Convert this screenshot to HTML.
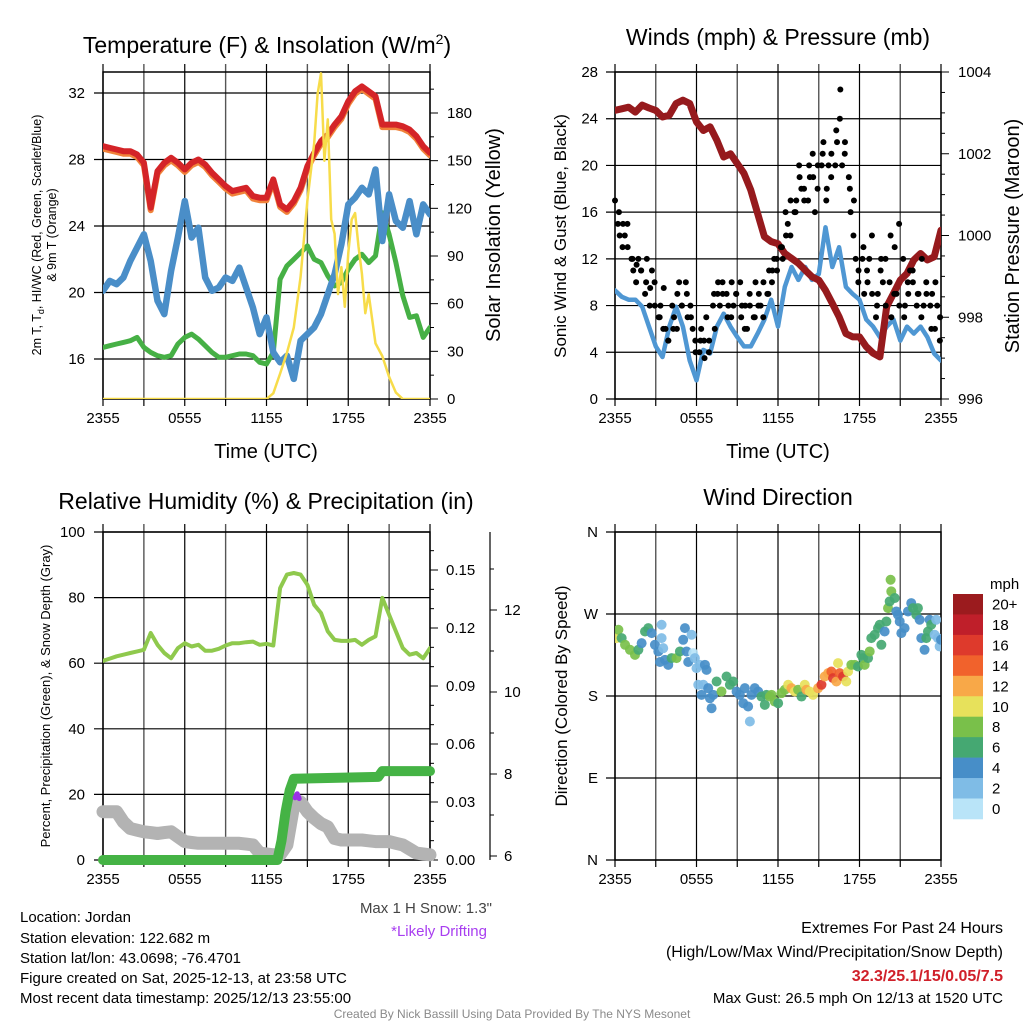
<!DOCTYPE html>
<html><head><meta charset="utf-8">
<style>
body{margin:0;background:#fff;}
svg{display:block;font-family:"Liberation Sans",Arial,sans-serif;}
</style></head>
<body>
<svg id="c" width="1024" height="1024" viewBox="0 0 1024 1024" xmlns="http://www.w3.org/2000/svg">
<defs>
<clipPath id="cp1"><rect x="103" y="72" width="327" height="327"/></clipPath>
<clipPath id="cp2"><rect x="615" y="72" width="326" height="327"/></clipPath>
<clipPath id="cp3"><rect x="103" y="532" width="327" height="328"/></clipPath>
<clipPath id="cp4"><rect x="615" y="532" width="326" height="328"/></clipPath>
</defs>
<text x="267" y="53" font-size="23" text-anchor="middle">Temperature (F) &amp; Insolation (W/m<tspan dy="-9" font-size="14">2</tspan><tspan dy="9">)</tspan></text>
<text x="778" y="45" font-size="23" text-anchor="middle">Winds (mph) &amp; Pressure (mb)</text>
<text x="266" y="509" font-size="23" text-anchor="middle">Relative Humidity (%) &amp; Precipitation (in)</text>
<text x="778" y="505" font-size="23" text-anchor="middle">Wind Direction</text>

<text x="266" y="458" font-size="20" text-anchor="middle">Time (UTC)</text>
<text x="778" y="458" font-size="20" text-anchor="middle">Time (UTC)</text>

<g font-size="12.5" text-anchor="middle">
<text transform="translate(41,235) rotate(-90)">2m T, T<tspan font-size="9" dy="3">d</tspan><tspan dy="-3">, HI/WC (Red, Green, Scarlet/Blue)</tspan></text>
<text transform="translate(56,235) rotate(-90)">&amp; 9m T (Orange)</text>
</g>
<text transform="translate(500,235) rotate(-90)" font-size="20" text-anchor="middle">Solar Insolation (Yellow)</text>
<text transform="translate(566,236) rotate(-90)" font-size="17" text-anchor="middle">Sonic Wind &amp; Gust (Blue, Black)</text>
<text transform="translate(1019,236) rotate(-90)" font-size="20" text-anchor="middle">Station Pressure (Maroon)</text>
<text transform="translate(50,696) rotate(-90)" font-size="13" text-anchor="middle">Percent, Precipitation (Green), &amp; Snow Depth (Gray)</text>
<text transform="translate(567,696) rotate(-90)" font-size="17" text-anchor="middle">Direction (Colored By Speed)</text>

<g font-size="15">
<text x="20" y="922">Location: Jordan</text>
<text x="20" y="943">Station elevation: 122.682 m</text>
<text x="20" y="963">Station lat/lon: 43.0698; -76.4701</text>
<text x="20" y="983">Figure created on Sat, 2025-12-13, at 23:58 UTC</text>
<text x="20" y="1003">Most recent data timestamp: 2025/12/13 23:55:00</text>
</g>
<text x="492" y="913" font-size="15" fill="#444" text-anchor="end">Max 1 H Snow: 1.3"</text>
<text x="487" y="936" font-size="15" fill="#a83ef0" text-anchor="end">*Likely Drifting</text>
<g font-size="16" text-anchor="end">
<text x="1003" y="933">Extremes For Past 24 Hours</text>
<text x="1003" y="957">(High/Low/Max Wind/Precipitation/Snow Depth)</text>
<text x="1003" y="981" fill="#d0202a" font-weight="bold">32.3/25.1/15/0.05/7.5</text>
<text x="1003" y="1003" font-size="15">Max Gust: 26.5 mph On 12/13 at 1520 UTC</text>
</g>
<text x="512" y="1018" font-size="12" fill="#8a8a8a" text-anchor="middle">Created By Nick Bassill Using Data Provided By The NYS Mesonet</text>
</svg>
<script>
// ---------- data ----------
const hours = [0,0.5,1,1.5,2,2.5,3,3.5,4,4.5,5,5.5,6,6.5,7,7.5,8,8.5,9,9.5,10,10.5,11,11.5,12,12.5,13,13.5,14,14.5,15,15.5,16,16.5,17,17.5,18,18.5,19,19.5,20,20.5,21,21.5,22,22.5,23,23.5,24];
const tempF = [28.8,28.7,28.6,28.5,28.5,28.3,27.8,25.1,27.3,27.8,28.1,27.8,27.4,27.8,28.0,27.7,27.2,26.8,26.4,26.1,26.2,26.3,25.8,25.7,25.7,26.8,25.3,25.0,25.5,26.3,27.6,28.4,29.1,29.5,30.1,30.6,31.5,32.1,32.4,32.1,31.8,30.1,30.1,30.1,30.0,29.8,29.4,28.8,28.4];
const windChill = [20.1,20.7,20.5,20.9,21.9,22.7,23.5,21.9,19.5,18.7,21.3,23.3,25.5,23.3,23.9,20.9,20.1,20.3,20.9,20.7,21.5,20.3,19.1,17.5,18.5,16.4,15.8,16.2,14.8,17.1,17.5,17.9,18.7,19.9,21.1,22.9,25.3,25.7,26.3,25.9,27.4,23.1,25.9,24.3,23.9,25.5,23.5,25.3,24.7];
const dewF = [16.7,16.8,16.9,17.0,17.1,17.3,16.7,16.4,16.2,16.1,16.2,16.9,17.3,17.5,17.2,16.8,16.4,16.1,16.1,16.2,16.3,16.3,16.2,15.8,15.7,16.4,20.8,21.6,22.0,22.4,22.8,22.0,21.8,21.0,20.4,20.6,21.4,22.0,22.3,21.8,22.2,24.8,23.5,21.8,19.8,18.5,18.6,17.3,17.9];
const solarHours = [0,12,12.5,13,13.5,14,14.5,15,15.5,15.75,16,16.25,16.5,16.75,17,17.25,17.5,17.75,18,18.25,18.5,18.75,19,19.25,19.5,20,20.5,21,21.5,22,24];
const solarW = [0,0,3.6,16,29,45,77,125,161,192,205,150,176,113,104,66,83,58,92,113,117,96,79,54,66,35,27,14,4,0,0];
const pressureMb = [1003.06,1003.1,1003.14,1003.02,1003.19,1003.12,1003.06,1002.9,1002.94,1003.23,1003.31,1003.23,1002.78,1002.57,1002.66,1002.33,1001.92,1002.0,1001.76,1001.52,1001.11,1000.54,999.97,999.85,999.8,999.56,999.44,999.32,999.15,998.99,998.91,998.66,998.34,998.01,997.6,997.52,997.52,997.28,997.12,997.03,998.26,998.58,998.91,999.07,999.4,999.56,999.4,999.48,1000.13];
const windMph = [9.3,8.75,8.5,8.5,7.9,6.2,4.5,3.6,6.2,7.9,6.2,3.3,1.6,4.2,3.9,6.2,7.3,6.2,5.3,4.5,4.5,5.6,6.8,8.5,6.2,9.6,11.3,10.2,11.3,10.2,10.7,14.7,11.3,13.0,9.6,9.0,8.5,6.8,6.2,5.3,6.2,6.8,5.0,6.2,5.6,6.2,5.3,3.9,3.3];
const gustA = [17,16,15,14,13,12,11.5,12,11,10,9.5,11,8,7,9.5,6,5,6,9,10,8,9,7,6,4,5,3.5,7,5,9,10,8,9,7,10,8,9,7,8,6,8,7,9,8,10,9,11,12,11,13,14,15,17,16,19,18,17,20,19,16,20,21,18,20,21,23,26.5,20,22,18,17,12,11,13,10,12,9,8,12,10,8,14,13,9,8,7,9,11,10,9,12,8,9,6,10,8,7];
const gustB = [15,14,13,15,12,11,10,11,9,12,8,10,7,8,6,5,8,7,6,8,10,7,8,5,4,6,5,4,8,6,9,10,9,8,7,9,10,8,6,9,7,10,8,7,9,11,10,12,13,12,16,14,16,17,20,18,17,19,21,18,20,22,17,19,20,22,24,21,19,16,14,10,12,9,11,14,7,9,11,12,10,7,9,15,12,8,10,11,8,9,7,10,8,9,6,5,8];
const rhPct = [60.7,61.4,62.1,62.6,63.1,63.6,64.1,69.2,65.6,63.1,61.5,64.6,66.1,65.1,65.6,63.8,63.8,64.4,65.4,66.1,66.1,66.4,66.6,65.6,65.9,65.4,82.9,87.0,87.5,87.0,83.9,77.8,75.3,69.7,67.1,66.8,66.8,67.1,65.6,67.1,68.2,79.9,74.8,69.7,64.6,62.6,63.1,61.5,64.6];
const precipHours = [0,12.8,13.1,13.4,13.7,14,20.2,20.5,24];
const precipIn = [0,0,0.01,0.025,0.036,0.042,0.043,0.046,0.046];
const snowIn = [7.08,7.08,7.08,6.83,6.67,6.63,6.59,6.57,6.55,6.57,6.59,6.47,6.35,6.33,6.31,6.31,6.31,6.31,6.31,6.31,6.31,6.29,6.27,6.07,6.05,6.03,6.03,6.27,7.24,7.32,7.08,6.92,6.79,6.71,6.43,6.39,6.39,6.39,6.39,6.37,6.35,6.35,6.35,6.31,6.27,6.17,6.07,6.05,6.03];
const driftHours = [14.1,14.25,14.4];
const driftIn = [7.42,7.52,7.4];
const dirHours = [0.12,0.25,0.49,0.74,1.10,1.47,1.72,1.96,2.21,2.45,2.70,2.94,3.19,3.43,3.43,3.55,3.31,3.68,3.92,4.17,4.53,4.78,5.02,5.15,5.27,5.39,5.64,5.76,5.88,6.00,6.25,6.62,6.74,6.13,6.37,6.50,6.86,6.99,7.11,7.23,7.48,7.84,8.21,8.46,8.70,8.95,9.19,9.44,9.56,9.80,9.93,10.05,10.29,10.54,10.78,11.03,11.15,11.40,11.52,11.76,12.01,12.25,12.50,12.75,12.99,13.24,13.48,13.73,13.97,14.09,14.34,14.58,14.95,15.20,15.44,15.69,15.93,16.05,16.30,16.42,16.54,16.79,17.03,17.16,17.40,17.65,17.89,18.14,18.26,18.38,18.63,18.75,18.87,19.12,19.36,19.49,19.61,19.85,19.98,20.10,20.22,20.29,20.34,20.59,20.71,20.83,20.96,21.08,21.32,21.57,21.81,21.94,22.18,22.30,22.43,22.55,22.79,22.92,23.04,23.16,23.28,23.53,23.77,23.90,24.0,23.65];
const dirDeg = [243.5,252.7,243.5,236.2,230.7,225.2,230.7,238.0,250.8,254.5,249.0,236.2,228.9,258.2,243.5,232.5,217.3,219.7,214.2,221.6,221.6,228.9,241.7,254.5,228.9,217.3,247.2,227.0,221.6,210.6,214.2,214.2,208.7,192.3,181.3,192.3,188.6,177.6,166.6,181.3,195.9,184.9,201.4,192.3,195.9,184.9,181.3,172.1,188.6,168.5,152.0,181.3,188.6,184.9,179.4,170.3,181.3,179.4,181.3,173.9,172.1,183.1,186.8,192.3,188.6,184.9,186.8,179.4,192.3,186.8,184.9,181.3,188.6,192.3,201.4,205.1,206.9,199.6,195.9,216.1,205.1,201.4,195.9,206.9,214.2,214.2,212.4,225.2,221.6,214.2,221.6,228.9,243.5,247.2,254.5,258.2,236.2,250.8,261.8,276.5,283.8,307.6,294.8,287.5,272.8,269.2,261.8,249.0,254.5,272.8,282.0,276.5,269.2,276.5,263.7,243.5,230.7,243.5,250.8,263.7,258.2,247.2,243.5,234.4,241.7,263.7];
const dirSpeed = [10,8,7,8,8,8,7,4,6,6,4,4,4,2,2,2,4,4,4,7,8,6,4,4,4,4,2,1,2,2,2,4,4,2,4,2,4,4,4,4,6,8,6,6,6,4,4,4,4,4,2,4,4,4,6,6,6,8,8,8,6,8,8,10,12,10,8,6,10,12,10,10,13,16,12,13,14,16,13,10,14,16,11,10,8,8,7,6,6,8,6,8,6,6,6,6,6,4,6,8,6,8,8,6,4,4,4,4,4,4,4,6,6,6,4,4,4,6,6,4,6,2,2,2,4,2];
const xTickLabels = ["2355","0555","1155","1755","2355"];
const tempTicks = [16,20,24,28,32];
const solarTicks = [0,30,60,90,120,150,180];
const windTicks = [0,4,8,12,16,20,24,28];
const presTicks = [996,998,1000,1002,1004];
const rhTicks = [0,20,40,60,80,100];
const precipTicks = [0,0.03,0.06,0.09,0.12,0.15];
const snowTicks = [6,8,10,12];
const dirTicks = ["N","E","S","W","N"];
const speedLabels = ["20+","18","16","14","12","10","8","6","4","2","0"];
const speedColors = ["#9b1b1e","#bf1f2a","#de3a2c","#f1622c","#f8a848","#e7e15b","#79c04a","#45a872","#478ec8","#7fbce6","#b9e4f8"];

// ---------- scales ----------
const x1 = h => 103 + h/24*327;
const yT = v => 359 - (v-16)*16.625;
const yS = v => 399 - v*(286/180);
const x2 = h => 615 + h/24*326;
const yW = v => 399 - v*(327/28);
const yP = v => 399 - (v-996)*(327/8);
const yRH = v => 860 - v*3.28;
const yPr = v => 860 - v*(290/0.15);
const ySn = v => 856 - (v-6)*41;
const yD = v => 860 - v*(328/360);

const svg = document.getElementById('c');
const NS = 'http://www.w3.org/2000/svg';
function mk(tag, attrs, parent){const e=document.createElementNS(NS,tag);for(const k in attrs)e.setAttribute(k,attrs[k]);(parent||svg).appendChild(e);return e;}
function txt(s,x,y,attrs,parent){const e=mk('text',Object.assign({x:x,y:y,'font-size':14},attrs),parent);e.textContent=s;return e;}
function grp(name){const g=mk('g',{});return g;}
function poly(xs,ys,fx,fy,attrs,parent,name){
  const d=xs.map((h,i)=>(i?'L':'M')+fx(h).toFixed(1)+' '+fy(ys[i]).toFixed(1)).join(' ');
  const p=mk('path',Object.assign({d:d,fill:'none','stroke-linejoin':'round','stroke-linecap':'round'},attrs),parent);
  
  
  return p;
}

function frame(name,L,T,R,B,hGridYs){
  const g=grp(name+'-grid');
  for(let k=0;k<=8;k++){const x=L+(R-L)*k/8;mk('line',{x1:x,y1:T-8,x2:x,y2:B,stroke:k%2?'#555':'#000','stroke-width':k%2?1.4:1.2},g);}
  hGridYs.forEach(y=>mk('line',{x1:L-9,y1:y,x2:R,y2:y,stroke:'#000','stroke-width':1.2},g));
  mk('rect',{x:L,y:T,width:R-L,height:B-T,fill:'none',stroke:'#000','stroke-width':1.5},g);
  for(let k=0;k<=8;k++){const x=L+(R-L)*k/8;mk('line',{x1:x,y1:B,x2:x,y2:B+7,stroke:'#000','stroke-width':1.2},g);}
  const tl=grp(name+'-x-tick-labels');
  xTickLabels.forEach((s,i)=>txt(s,L+(R-L)*i/4,B+24,{'text-anchor':'middle','font-size':15},tl));
}

// ---------- panel 1 ----------
frame('p1',103,72,430,399,tempTicks.map(yT));
const p1l=grp('p1-left-ticks');
tempTicks.forEach(v=>txt(String(v),85,yT(v)+5,{'text-anchor':'end','font-size':15},p1l));
const p1r=grp('p1-right-ticks');
solarTicks.forEach(v=>{mk('line',{x1:430,y1:yS(v),x2:438,y2:yS(v),stroke:'#000'},p1r);txt(String(v),447,yS(v)+5,{'font-size':15},p1r);});
for(let v=15;v<=205;v+=30){if(yS(v)>72)mk('line',{x1:430,y1:yS(v),x2:434,y2:yS(v),stroke:'#000'},p1r);}
const s1=mk('g',{'clip-path':'url(#cp1)'});
poly(hours,dewF,x1,yT,{stroke:'#46b045','stroke-width':5},s1,'dewpoint-line');
poly(hours,windChill,x1,yT,{stroke:'#4a8ec8','stroke-width':6.5},s1,'wind-chill-line');
poly(hours,tempF.map(v=>v-0.15),x1,yT,{stroke:'#f0823a','stroke-width':6},s1,'temp-9m-line');
poly(hours,tempF,x1,yT,{stroke:'#d42428','stroke-width':6},s1,'temp-2m-line');
poly(solarHours,solarW,x1,yS,{stroke:'#f7dc4a','stroke-width':2.5},s1,'insolation-line');

// ---------- panel 2 ----------
frame('p2',615,72,941,399,windTicks.map(yW));
const p2l=grp('p2-left-ticks');
windTicks.forEach(v=>txt(String(v),598,yW(v)+5,{'text-anchor':'end','font-size':15},p2l));
const p2r=grp('p2-right-ticks');
presTicks.forEach(v=>{mk('line',{x1:941,y1:yP(v),x2:949,y2:yP(v),stroke:'#000'},p2r);txt(String(v),958,yP(v)+5,{'font-size':15},p2r);});
for(let v=996.5;v<1004;v+=0.5){if(v%2)mk('line',{x1:941,y1:yP(v),x2:945,y2:yP(v),stroke:'#000'},p2r);}
const s2=mk('g',{'clip-path':'url(#cp2)'});
poly(hours,windMph,x2,yW,{stroke:'#4f97d3','stroke-width':4.5},s2,'sonic-wind-line');
poly(hours,pressureMb,x2,yP,{stroke:'#961a1d','stroke-width':7},s2,'pressure-line');
const gd=grp('gust-dots');
const jit=[-0.07,0.04,0.09,-0.03];
gustA.forEach((v,i)=>{const c=mk('circle',{cx:x2(Math.min(24,Math.max(0,i*0.25+jit[i%4]))),cy:yW(v),r:3,fill:'#000'},gd);});
gustB.forEach((v,i)=>{const h=i*0.25+0.125+jit[(i+2)%4];if(h>24)return;const c=mk('circle',{cx:x2(h),cy:yW(v),r:3,fill:'#000'},gd);});

// ---------- panel 3 ----------
frame('p3',103,532,430,860,rhTicks.map(yRH));
const p3l=grp('p3-left-ticks');
rhTicks.forEach(v=>txt(String(v),85,yRH(v)+5,{'text-anchor':'end','font-size':15},p3l));
const p3r=grp('p3-right-ticks');
precipTicks.forEach(v=>{mk('line',{x1:430,y1:yPr(v),x2:438,y2:yPr(v),stroke:'#000'},p3r);txt(v.toFixed(2),446,yPr(v)+5,{'font-size':15},p3r);});
for(let v=0.01;v<0.17;v+=0.01){mk('line',{x1:430,y1:yPr(v),x2:434,y2:yPr(v),stroke:'#000'},p3r);}
const p3o=grp('p3-snow-axis');
mk('line',{x1:490,y1:532,x2:490,y2:860,stroke:'#000','stroke-width':1.2},p3o);
snowTicks.forEach(v=>{mk('line',{x1:490,y1:ySn(v),x2:497,y2:ySn(v),stroke:'#000'},p3o);txt(String(v),504,ySn(v)+5,{'font-size':15},p3o);});
for(let v=7;v<=13;v+=2){mk('line',{x1:490,y1:ySn(v),x2:494,y2:ySn(v),stroke:'#000'},p3o);}
const s3=mk('g',{'clip-path':'url(#cp3)'});
poly(hours,snowIn,x1,ySn,{stroke:'#b3b3b3','stroke-width':13},svg,'snow-depth-line');
poly(precipHours,precipIn,x1,yPr,{stroke:'#45b345','stroke-width':10},svg,'precip-line');
poly(driftHours,driftIn,x1,ySn,{stroke:'#9a30e8','stroke-width':5},svg,'drifting-marker');
poly(hours,rhPct,x1,yRH,{stroke:'#8fc94d','stroke-width':4},s3,'rh-line');

// ---------- panel 4 ----------
frame('p4',615,532,941,860,[0,90,180,270,360].map(yD));
const p4l=grp('p4-left-ticks');
dirTicks.forEach((s,i)=>txt(s,598,yD(i*90)+5,{'text-anchor':'end','font-size':15},p4l));
const s4=mk('g',{'clip-path':'url(#cp4)'});
dirDeg.forEach((d,i)=>{const k=Math.min(10,Math.floor(dirSpeed[i]/2));const c=mk('circle',{cx:x2(dirHours[i]),cy:yD(d),r:5,fill:speedColors[10-k],'fill-opacity':0.92},s4);});
const cb=grp('speed-colorbar');
txt('mph',990,589,{'font-size':15},cb);
speedColors.forEach((col,i)=>{mk('rect',{x:953,y:594+i*20.45,width:30,height:20.8,fill:col},cb);txt(speedLabels[i],992,594+i*20.45+15.5,{'font-size':15},cb);});
</script>
</body></html>
